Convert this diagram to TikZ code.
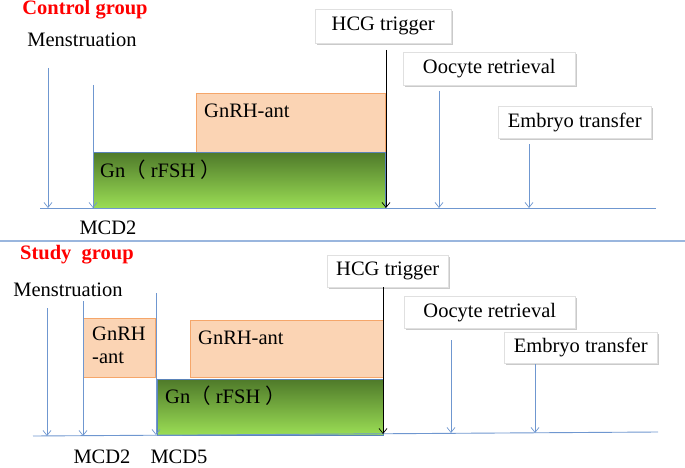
\documentclass[tikz,border=0pt]{standalone}
\usepackage{fontspec}
\setmainfont{Liberation Serif}
\newfontfamily\cjkfont{Noto Sans CJK SC}
\usetikzlibrary{arrows.meta,shadows}
\definecolor{axisblue}{HTML}{6F97D0}
\definecolor{peachfill}{HTML}{FBD4B4}
\definecolor{peachline}{HTML}{F5A66A}
\definecolor{gndark}{HTML}{4F7A2A}
\definecolor{gnlight}{HTML}{9BDE55}
\definecolor{gnborder}{HTML}{5A83B8}
\tikzset{
  every node/.style={font=\fontsize{20.5}{22}\selectfont, inner sep=0pt},
  grptitle/.style={font=\fontsize{20.5}{22}\selectfont\bfseries, text=red},
  axisline/.style={draw=axisblue, line width=0.9pt},
  evarrow/.style={draw=axisblue, line width=0.8pt, -{Straight Barb[length=5pt,width=8pt,line width=0.7pt]}},
  hcgarrow/.style={draw=black, line width=0.8pt, -{Straight Barb[length=5pt,width=8pt,line width=0.7pt]}},
  antbox/.style={draw=peachline, fill=peachfill, line width=0.8pt, anchor=north west},
  gnbox/.style={draw=gnborder, line width=0.8pt, top color=gndark, bottom color=gnlight, anchor=north west},
  labelbox/.style={draw=black!12, fill=white, line width=0.5pt, anchor=north west,
    drop shadow={shadow xshift=1.5pt, shadow yshift=-1.5pt, fill=black!35, opacity=0.6}},
  boxtext/.style={anchor=west},
}
\begin{document}
\begin{tikzpicture}[x=1pt,y=-1pt]
\useasboundingbox (0,0) rectangle (685,468);
% ---------------- Control group ----------------
\node[grptitle] (ctitle) at (85,10) {Control group};
\node (cmen) at (82,40) {Menstruation};
% boxes
\node[antbox, minimum width=189pt, minimum height=59pt] (cant) at (196,93) {};
\node[boxtext] (cantt) at ([xshift=8pt,yshift=-18pt]cant.north west) {GnRH-ant};
\node[gnbox, minimum width=292pt, minimum height=56pt] (cgn) at (93,152) {};
\node[boxtext] (cgnt) at ([xshift=7pt,yshift=-18pt]cgn.north west) {Gn{\cjkfont （} rFSH {\cjkfont ）}};
% label boxes
\node[labelbox, minimum width=136pt, minimum height=34pt] (chcg) at (315,9) {};
\node (chcgt) at (chcg.center) {HCG trigger};
\node[labelbox, minimum width=172pt, minimum height=33pt] (cooc) at (403,52) {};
\node (cooct) at (cooc.center) {Oocyte retrieval};
\node[labelbox, minimum width=153pt, minimum height=32pt] (cemb) at (498,106) {};
\node (cembt) at (cemb.center) {Embryo transfer};
% axis and arrows
\coordinate (cax0) at (40,208);
\coordinate (cax1) at (656,208);
\draw[axisline] (cax0) -- (cax1);
\coordinate (ca1s) at (48,68);  \coordinate (ca1e) at (48,208);
\coordinate (ca2s) at (93,85);  \coordinate (ca2e) at (93,208);
\coordinate (chs) at (386,50);  \coordinate (che) at (386,208);
\coordinate (cos) at (439,91);  \coordinate (coe) at (439,208);
\coordinate (ces) at (529,144); \coordinate (cee) at (529,208);
\draw[evarrow] (ca1s) -- (ca1e);
\draw[evarrow] (ca2s) -- (ca2e);
\draw[hcgarrow] (chs) -- (che);
\draw[evarrow] (cos) -- (coe);
\draw[evarrow] (ces) -- (cee);
\node (cmcd) at (108,228) {MCD2};
% separator
\coordinate (sep0) at (0,241);
\coordinate (sep1) at (685,241);
\draw[draw=axisblue!70, line width=1.1pt] (sep0) -- (sep1);
% ---------------- Study group ----------------
\node[grptitle] (stitle) at (77,255) {Study\ \ group};
\node (smen) at (68,290) {Menstruation};
\node[antbox, minimum width=72pt, minimum height=59pt] (sant1) at (83,318) {};
\node[boxtext, align=left, anchor=north west] (sant1t) at ([xshift=9pt,yshift=-9pt]sant1.north west) {GnRH\\[1pt]-ant};
\node[antbox, minimum width=193pt, minimum height=57pt] (sant2) at (190,320) {};
\node[boxtext] (sant2t) at ([xshift=8pt,yshift=-18pt]sant2.north west) {GnRH-ant};
\node[gnbox, minimum width=226pt, minimum height=56pt] (sgn) at (157,379) {};
\node[boxtext] (sgnt) at ([xshift=8pt,yshift=-17pt]sgn.north west) {Gn{\cjkfont （} rFSH {\cjkfont ）}};
\node[labelbox, minimum width=121pt, minimum height=32pt] (shcg) at (327,255) {};
\node (shcgt) at (shcg.center) {HCG trigger};
\node[labelbox, minimum width=171pt, minimum height=32pt] (sooc) at (404,296) {};
\node (sooct) at (sooc.center) {Oocyte retrieval};
\node[labelbox, minimum width=153pt, minimum height=31pt] (semb) at (504,332) {};
\node (sembt) at (semb.center) {Embryo transfer};
\coordinate (sax0) at (33,436);
\coordinate (sax1) at (658,432);
\draw[axisline] (sax0) -- (sax1);
\coordinate (sa1s) at (47,308);  \coordinate (sa1e) at (47,436);
\coordinate (sa2s) at (83,301);  \coordinate (sa2e) at (83,436);
\coordinate (sa3s) at (156,293); \coordinate (sa3e) at (156,435);
\coordinate (shs) at (383,287);  \coordinate (she) at (383,434);
\coordinate (sos) at (451,340);  \coordinate (soe) at (451,433);
\coordinate (ses) at (535,364);  \coordinate (see) at (535,433);
\draw[evarrow] (sa1s) -- (sa1e);
\draw[evarrow] (sa2s) -- (sa2e);
\draw[evarrow] (sa3s) -- (sa3e);
\draw[hcgarrow] (shs) -- (she);
\draw[evarrow] (sos) -- (soe);
\draw[evarrow] (ses) -- (see);
\node (smcd2) at (102,457) {MCD2};
\node (smcd5) at (179,457) {MCD5};
\end{tikzpicture}
\end{document}
